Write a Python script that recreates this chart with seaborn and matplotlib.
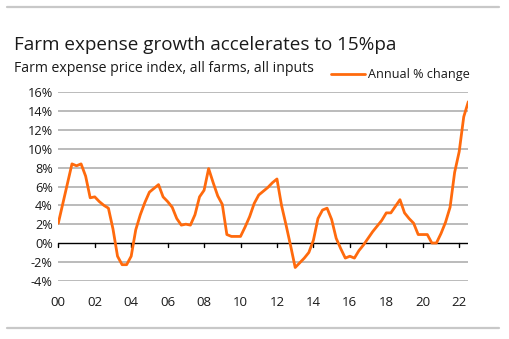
import numpy as np
import pandas as pd
import seaborn as sns
import matplotlib.pyplot as plt
from matplotlib.lines import Line2D

# Quarterly annual % change in the farm expense price index, 2000 Q1 - 2022 Q3
start_year = 2000
annual_change = [
    2.1, 4.2, 6.3, 8.4,      # 2000
    8.2, 8.4, 7.1, 4.8,      # 2001
    4.9, 4.4, 4.0, 3.7,      # 2002
    1.5, -1.4, -2.3, -2.3,   # 2003
    -1.4, 1.4, 3.0, 4.3,     # 2004
    5.4, 5.8, 6.2, 4.9,      # 2005
    4.4, 3.8, 2.6, 1.9,      # 2006
    2.0, 1.9, 3.0, 4.9,      # 2007
    5.6, 7.9, 6.4, 5.0,      # 2008
    4.1, 0.9, 0.7, 0.7,      # 2009
    0.7, 1.7, 2.8, 4.2,      # 2010
    5.1, 5.5, 5.9, 6.4,      # 2011
    6.8, 4.0, 1.9, -0.3,     # 2012
    -2.6, -2.1, -1.6, -1.0,  # 2013
    0.3, 2.6, 3.5, 3.7,      # 2014
    2.5, 0.5, -0.6, -1.6,    # 2015
    -1.4, -1.6, -0.8, -0.2,  # 2016
    0.5, 1.2, 1.8, 2.4,      # 2017
    3.2, 3.2, 3.9, 4.6,      # 2018
    3.2, 2.6, 2.1, 0.9,      # 2019
    0.9, 0.9, 0.0, 0.0,      # 2020
    1.0, 2.2, 3.8, 7.5,      # 2021
    9.7, 13.4, 15.0,         # 2022
]
tick_years = list(range(2000, 2023, 2))
tick_labels = [f"{y % 100:02d}" for y in tick_years]
y_ticks = list(range(-4, 17, 2))

title = "Farm expense growth accelerates to 15%pa"
subtitle = "Farm expense price index, all farms, all inputs"
series_name = "Annual % change"

df = pd.DataFrame({
    "period": start_year + 0.25 * np.arange(len(annual_change)),
    "value": annual_change,
})

sns.set_theme(style="white")
plt.rcParams["font.family"] = ["Open Sans", "DejaVu Sans"]

orange = "#FF6A0D"
grid_col = "#A8A8A8"
text_col = "#1A1A1A"

fig = plt.figure(figsize=(5.10, 3.39), dpi=100)
ax = fig.add_axes([58.3 / 510, 1 - 280.7 / 339, (468.3 - 58.3) / 510, (280.7 - 92.3) / 339])

for v in y_ticks:
    if v != 0:
        ax.axhline(v, color=grid_col, lw=1.1, zorder=0)
ax.axhline(0, color="black", lw=1.0, zorder=1)

sns.lineplot(data=df, x="period", y="value", ax=ax, color=orange, lw=2.0,
             legend=False, zorder=3)

ax.set_xlim(df["period"].iloc[0], df["period"].iloc[-1])
ax.set_ylim(-4, 16)
for s in ax.spines.values():
    s.set_visible(False)

ax.set_yticks(y_ticks)
ax.set_yticklabels([f"{v}%" for v in y_ticks], fontsize=9.2, color=text_col)
ax.tick_params(axis="y", length=0, pad=4)

ax.set_xticks(tick_years)
ax.set_xticklabels(tick_labels, fontsize=9.5, color=text_col)
ax.tick_params(axis="x", length=0, pad=11)
# small tick marks hanging from the zero line
for yr in tick_years:
    ax.plot([yr, yr], [0, -0.42], color="black", lw=1.0, zorder=1, clip_on=False)
ax.set_xlabel("")
ax.set_ylabel("")

# titles
fig.text(14 / 510, 1 - 45 / 339, title, fontsize=13.55, color=text_col, va="center", ha="left")
fig.text(14 / 510, 1 - 68.5 / 339, subtitle, fontsize=10.1, color=text_col, va="center", ha="left")

# legend entry
fig.add_artist(Line2D([331 / 510, 365 / 510], [1 - 74 / 339, 1 - 74 / 339],
                      color=orange, lw=2.0, transform=fig.transFigure))
fig.text(368 / 510, 1 - 74.5 / 339, series_name, fontsize=9.1, color=text_col,
         va="center", ha="left")

# framing rules at top and bottom
for yy in (7.3, 328.3):
    fig.add_artist(Line2D([7 / 510, 499 / 510], [1 - yy / 339, 1 - yy / 339],
                          color="#C8C8C8", lw=1.6, transform=fig.transFigure))

fig.savefig("out.png", dpi=100)
